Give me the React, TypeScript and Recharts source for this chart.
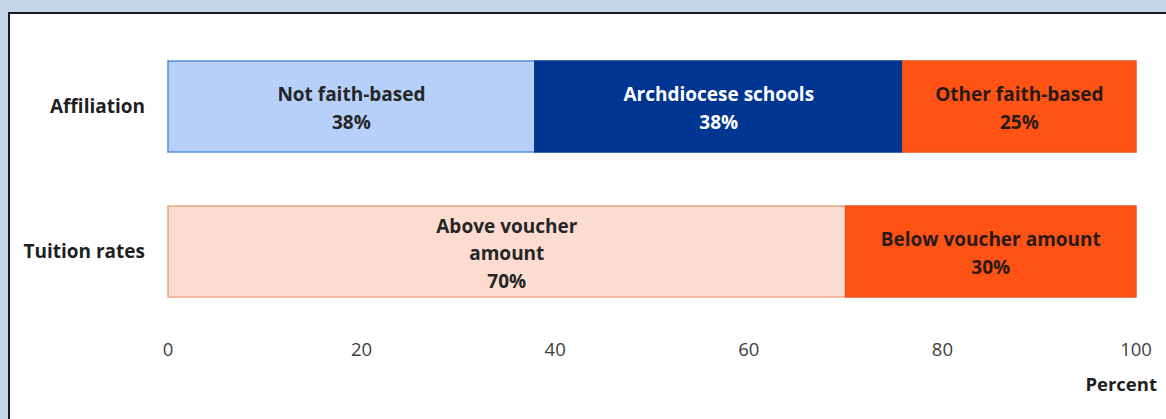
import { BarChart, Bar, XAxis, YAxis, LabelList } from 'recharts';

const categories = ['Affiliation', 'Tuition rates'];

// segment shares in percent
const notFaithBased = [37.9, null];
const archdiocese = [38.0, null];
const otherFaithBased = [24.1, null];
const aboveVoucher = [null, 70];
const belowVoucher = [null, 30];

// printed labels inside the segments
const notFaithLabel = ['Not faith-based', '38%'];
const archdioceseLabel = ['Archdiocese schools', '38%'];
const otherFaithLabel = ['Other faith-based', '25%'];
const aboveVoucherLabel = ['Above voucher', 'amount', '70%'];
const belowVoucherLabel = ['Below voucher amount', '30%'];

const xTicks = [0, 20, 40, 60, 80, 100];

const data = categories.map((name, i) => ({
    name,
    notFaithBased: notFaithBased[i],
    archdiocese: archdiocese[i],
    otherFaithBased: otherFaithBased[i],
    aboveVoucher: aboveVoucher[i],
    belowVoucher: belowVoucher[i],
}));

const series = [
    { key: 'notFaithBased', lines: notFaithLabel, fill: '#b7d0fa', stroke: '#5a8edb', text: '#262626' },
    { key: 'archdiocese', lines: archdioceseLabel, fill: '#003591', stroke: '#003591', text: '#ffffff' },
    { key: 'otherFaithBased', lines: otherFaithLabel, fill: '#ff5316', stroke: '#e8541c', text: '#2a1a14' },
    { key: 'aboveVoucher', lines: aboveVoucherLabel, fill: '#fcdcd0', stroke: '#eba58a', text: '#262626' },
    { key: 'belowVoucher', lines: belowVoucherLabel, fill: '#ff5316', stroke: '#e8541c', text: '#2a1a14' },
];

const FONT = '"Open Sans", Lato, sans-serif';
const LINE_H = 27.5;

function makeLabel(lines: string[], color: string) {
    return (props: any) => {
        const { x, y, width, height, value } = props;
        if (value == null || !width) return null;
        const cx = Number(x) + Number(width) / 2;
        const cy = Number(y) + Number(height) / 2 + 2;
        const top = cy - ((lines.length - 1) * LINE_H) / 2;
        return (
            <text
                x={cx}
                textAnchor="middle"
                fontFamily={FONT}
                fontWeight={700}
                fontSize={19}
                fill={color}
            >
                {lines.map((l, i) => (
                    <tspan key={i} x={cx} y={top + i * LINE_H} dy="0.35em">{l}</tspan>
                ))}
            </text>
        );
    };
}

export default function App() {
    return (
        <div style={{ position: 'fixed', left: 0, top: 0, width: 1166, height: 419, background: '#c5d6ea', overflow: 'hidden' }}>
            <div style={{
                position: 'absolute', left: 8, top: 12, width: 1200, height: 500,
                background: '#ffffff', borderLeft: '2px solid #1c1c1c', borderTop: '2px solid #1c1c1c',
            }} />
            <div style={{ position: 'absolute', left: 0, top: 0 }}>
                <BarChart
                    width={1166}
                    height={419}
                    data={data}
                    layout="vertical"
                    margin={{ top: 34, right: 30, bottom: 0, left: 0 }}
                    barSize={91}
                >
                    <XAxis
                        type="number"
                        domain={[0, 100]}
                        ticks={xTicks}
                        axisLine={false}
                        tickLine={false}
                        tickSize={0}
                        tickMargin={19}
                        height={95}
                        tick={{ fill: '#404040', fontSize: 18.5, fontFamily: FONT }}
                        label={{
                            content: (p: any) => {
                                const vb = p.viewBox || {};
                                return (
                                    <text
                                        x={vb.x + vb.width + 21}
                                        y={vb.y + 67}
                                        textAnchor="end"
                                        fontFamily={FONT}
                                        fontWeight={700}
                                        fontSize={18.5}
                                        fill="#1f1f1f"
                                    >
                                        Percent
                                    </text>
                                );
                            },
                        }}
                    />
                    <YAxis
                        type="category"
                        dataKey="name"
                        width={168}
                        axisLine={false}
                        tickLine={false}
                        tickSize={0}
                        tickMargin={23}
                        tick={{ fill: '#1f1f1f', fontSize: 19, fontWeight: 700, fontFamily: FONT }}
                    />
                    {series.map(s => (
                        <Bar
                            key={s.key}
                            dataKey={s.key}
                            stackId="a"
                            fill={s.fill}
                            stroke={s.stroke}
                            strokeWidth={1.5}
                            isAnimationActive={false}
                        >
                            <LabelList dataKey={s.key} content={makeLabel(s.lines, s.text)} />
                        </Bar>
                    ))}
                </BarChart>
            </div>
        </div>
    );
}
